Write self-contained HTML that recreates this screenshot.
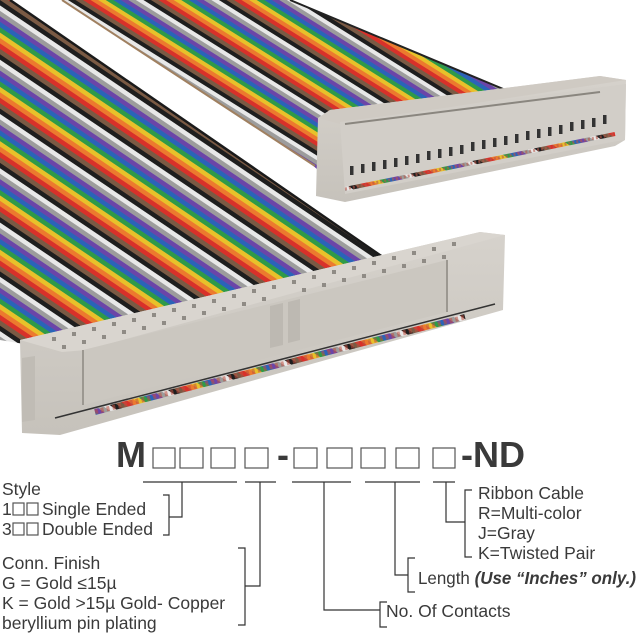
<!DOCTYPE html>
<html><head><meta charset="utf-8"><style>
html,body{margin:0;padding:0;background:#fff;width:640px;height:640px;overflow:hidden}
svg{display:block}
text{font-family:"Liberation Sans",Arial,sans-serif;fill:#3a3a3a}
</style></head><body>
<svg width="640" height="640" viewBox="0 0 640 640" xmlns="http://www.w3.org/2000/svg">
<defs>
<pattern id="wiresA" width="45" height="200" patternUnits="userSpaceOnUse" patternTransform="rotate(-56)">
<rect x="0" width="4.5" height="200" fill="#7a5a44"/>
<rect x="4.5" width="4.5" height="200" fill="#d8312a"/>
<rect x="9" width="4.5" height="200" fill="#ec7a2e"/>
<rect x="13.5" width="4.5" height="200" fill="#e8c12a"/>
<rect x="18" width="4.5" height="200" fill="#2f9a48"/>
<rect x="22.5" width="4.5" height="200" fill="#2a64b8"/>
<rect x="27" width="4.5" height="200" fill="#6b45a8"/>
<rect x="31.5" width="4.5" height="200" fill="#9c9c9c"/>
<rect x="36" width="4.5" height="200" fill="#e8e8e8"/>
<rect x="40.5" width="4.5" height="200" fill="#1e1e1e"/>
</pattern>
<pattern id="wiresB" width="40" height="200" patternUnits="userSpaceOnUse" patternTransform="rotate(-58)">
<rect x="0" width="4" height="200" fill="#7a5a44"/>
<rect x="4" width="4" height="200" fill="#d8312a"/>
<rect x="8" width="4" height="200" fill="#ec7a2e"/>
<rect x="12" width="4" height="200" fill="#e8c12a"/>
<rect x="16" width="4" height="200" fill="#2f9a48"/>
<rect x="20" width="4" height="200" fill="#2a64b8"/>
<rect x="24" width="4" height="200" fill="#6b45a8"/>
<rect x="28" width="4" height="200" fill="#9c9c9c"/>
<rect x="32" width="4" height="200" fill="#e8e8e8"/>
<rect x="36" width="4" height="200" fill="#1e1e1e"/>
</pattern>
<linearGradient id="face" x1="0" y1="0" x2="0" y2="1">
<stop offset="0" stop-color="#d6d2cc"/><stop offset="1" stop-color="#c6c2bb"/></linearGradient>
</defs>

<!-- upper ribbon -->
<polygon points="62,0 290,0 520,95 318,170 310,163" fill="url(#wiresB)"/>
<line x1="62" y1="0" x2="315" y2="166" stroke="#a08060" stroke-width="2"/>
<line x1="290" y1="0" x2="520" y2="96" stroke="#222" stroke-width="2"/>

<!-- lower ribbon -->
<polygon points="0,0 10,0 390,262 60,350 0,340" fill="url(#wiresA)"/>
<line x1="10" y1="0" x2="390" y2="262" stroke="#1a1a1a" stroke-width="2.5"/>

<!-- upper connector -->
<polygon points="318,118 330,110 600,76 626,80 625,140 615,146 345,202 316,196" fill="url(#face)"/>
<polygon points="318,118 330,110 600,76 626,80 340,124" fill="#cfcac3"/>
<polygon points="340,122 626,84 625,140 612,142 345,194" fill="#d2cec8"/>
<line x1="345" y1="124" x2="600" y2="92" stroke="#8a867f" stroke-width="2"/>
<g fill="#333">
<rect x="350" y="166" width="3.5" height="9"/><rect x="361" y="164" width="3.5" height="9"/><rect x="372" y="162" width="3.5" height="9"/><rect x="383" y="160" width="3.5" height="9"/><rect x="394" y="158" width="3.5" height="9"/><rect x="405" y="156" width="3.5" height="9"/><rect x="416" y="154" width="3.5" height="9"/><rect x="427" y="151" width="3.5" height="9"/><rect x="438" y="149" width="3.5" height="9"/><rect x="449" y="147" width="3.5" height="9"/><rect x="460" y="145" width="3.5" height="9"/><rect x="471" y="142" width="3.5" height="9"/><rect x="482" y="140" width="3.5" height="9"/><rect x="493" y="138" width="3.5" height="9"/><rect x="504" y="136" width="3.5" height="9"/><rect x="515" y="134" width="3.5" height="9"/><rect x="526" y="131" width="3.5" height="9"/><rect x="537" y="129" width="3.5" height="9"/><rect x="548" y="127" width="3.5" height="9"/><rect x="559" y="125" width="3.5" height="9"/><rect x="570" y="122" width="3.5" height="9"/><rect x="581" y="120" width="3.5" height="9"/><rect x="592" y="118" width="3.5" height="9"/><rect x="603" y="115" width="3.5" height="9"/>
</g>
<line x1="345" y1="189" x2="615" y2="134" stroke="url(#wiresA)" stroke-width="4"/>
<line x1="345" y1="189" x2="615" y2="134" stroke="#b7584a" stroke-width="3" stroke-dasharray="2 2" opacity="0.6"/>

<!-- lower connector -->
<polygon points="20,340 480,232 505,235 503,310 60,435 22,433" fill="url(#face)"/>
<polygon points="20,340 480,232 505,235 86,350 62,352" fill="#d9d5cf"/>
<g fill="#8f8b85">
<rect x="52" y="337" width="4" height="4"/><rect x="72" y="332" width="4" height="4"/><rect x="92" y="327" width="4" height="4"/><rect x="112" y="322" width="4" height="4"/><rect x="132" y="318" width="4" height="4"/><rect x="152" y="313" width="4" height="4"/><rect x="172" y="308" width="4" height="4"/><rect x="192" y="304" width="4" height="4"/><rect x="212" y="299" width="4" height="4"/><rect x="232" y="294" width="4" height="4"/><rect x="252" y="289" width="4" height="4"/><rect x="272" y="285" width="4" height="4"/><rect x="292" y="280" width="4" height="4"/><rect x="312" y="275" width="4" height="4"/><rect x="332" y="270" width="4" height="4"/><rect x="352" y="266" width="4" height="4"/><rect x="372" y="261" width="4" height="4"/><rect x="392" y="256" width="4" height="4"/><rect x="412" y="251" width="4" height="4"/><rect x="432" y="247" width="4" height="4"/><rect x="452" y="242" width="4" height="4"/>
<rect x="62" y="345" width="4" height="4"/><rect x="82" y="340" width="4" height="4"/><rect x="102" y="335" width="4" height="4"/><rect x="122" y="330" width="4" height="4"/><rect x="142" y="326" width="4" height="4"/><rect x="162" y="321" width="4" height="4"/><rect x="182" y="316" width="4" height="4"/><rect x="202" y="311" width="4" height="4"/><rect x="222" y="307" width="4" height="4"/><rect x="242" y="302" width="4" height="4"/><rect x="262" y="297" width="4" height="4"/><rect x="302" y="288" width="4" height="4"/><rect x="322" y="283" width="4" height="4"/><rect x="342" y="278" width="4" height="4"/><rect x="362" y="274" width="4" height="4"/><rect x="382" y="269" width="4" height="4"/><rect x="402" y="264" width="4" height="4"/><rect x="422" y="259" width="4" height="4"/><rect x="442" y="255" width="4" height="4"/>
</g>
<polygon points="83,350 447,260 447,312 83,405" fill="#cbc7c0"/>
<polygon points="270,306 283,303 283,345 270,348" fill="#bdb9b2"/>
<polygon points="288,302 300,299 300,340 288,343" fill="#bdb9b2"/>
<line x1="83" y1="350" x2="83" y2="405" stroke="#9c9891" stroke-width="2"/>
<line x1="447" y1="260" x2="447" y2="312" stroke="#9c9891" stroke-width="2"/>
<line x1="95" y1="412" x2="465" y2="317" stroke="url(#wiresA)" stroke-width="6"/>
<line x1="95" y1="412" x2="465" y2="317" stroke="#c05040" stroke-width="5" stroke-dasharray="3 3" opacity="0.55"/>
<line x1="55" y1="418" x2="495" y2="304" stroke="#333" stroke-width="1.5"/>
<polygon points="22,358 35,356 35,420 22,422" fill="#c0bcb5"/>

<!-- part number -->
<text x="116" y="467" font-size="36" font-weight="bold" fill="#333">M</text>
<g fill="none" stroke="#555" stroke-width="1.2">
<rect x="153" y="448" width="22" height="20"/><rect x="180" y="448" width="23" height="20"/><rect x="211" y="448" width="24" height="20"/><rect x="245" y="448" width="23" height="20"/>
<rect x="294" y="448" width="23" height="20"/><rect x="327" y="448" width="25" height="20"/><rect x="361" y="448" width="24" height="20"/><rect x="396" y="448" width="23" height="20"/><rect x="433" y="448" width="22" height="20"/>
<rect x="13" y="503" width="11" height="12"/><rect x="27" y="503" width="11" height="12"/>
<rect x="13" y="523" width="11" height="12"/><rect x="27" y="523" width="11" height="12"/>
</g>
<text x="277" y="467" font-size="36" font-weight="bold" fill="#333">-</text>
<text x="461" y="467" font-size="36" font-weight="bold" fill="#333">-ND</text>

<g stroke="#333" stroke-width="1.2" fill="none">
<line x1="143" y1="482" x2="237" y2="482"/><line x1="245" y1="482" x2="276" y2="482"/><line x1="292" y1="482" x2="351" y2="482"/><line x1="365" y1="482" x2="420" y2="482"/><line x1="433" y1="482" x2="455" y2="482"/>
<polyline points="182,482 182,517 169,517"/><polyline points="163,495 169,495 169,535 163,535"/>
<polyline points="260,482 260,586 245,586"/><polyline points="238,548 245,548 245,625 238,625"/>
<polyline points="324,482 324,610 380,610"/><polyline points="387,602 380,602 380,627 387,627"/>
<polyline points="395,482 395,575 408,575"/><polyline points="415,558 408,558 408,592 415,592"/>
<polyline points="446,482 446,522 465,522"/><polyline points="472,490 465,490 465,557 472,557"/>
</g>
<g font-size="17.5">
<text x="2" y="495">Style</text>
<text x="2" y="515">1</text><text x="42" y="515">Single Ended</text>
<text x="2" y="535">3</text><text x="42" y="535">Double Ended</text>
<text x="2" y="569">Conn. Finish</text>
<text x="2" y="589">G = Gold ≤15µ</text>
<text x="2" y="609">K = Gold &gt;15µ Gold- Copper</text>
<text x="2" y="629">beryllium pin plating</text>
<text x="478" y="499">Ribbon Cable</text>
<text x="478" y="519">R=Multi-color</text>
<text x="478" y="539">J=Gray</text>
<text x="478" y="559">K=Twisted Pair</text>
<text x="418" y="584" textLength="218" lengthAdjust="spacingAndGlyphs">Length <tspan font-weight="bold" font-style="italic">(Use “Inches” only.)</tspan></text>
<text x="386" y="617">No. Of Contacts</text>
</g>
</svg>
</body></html>
